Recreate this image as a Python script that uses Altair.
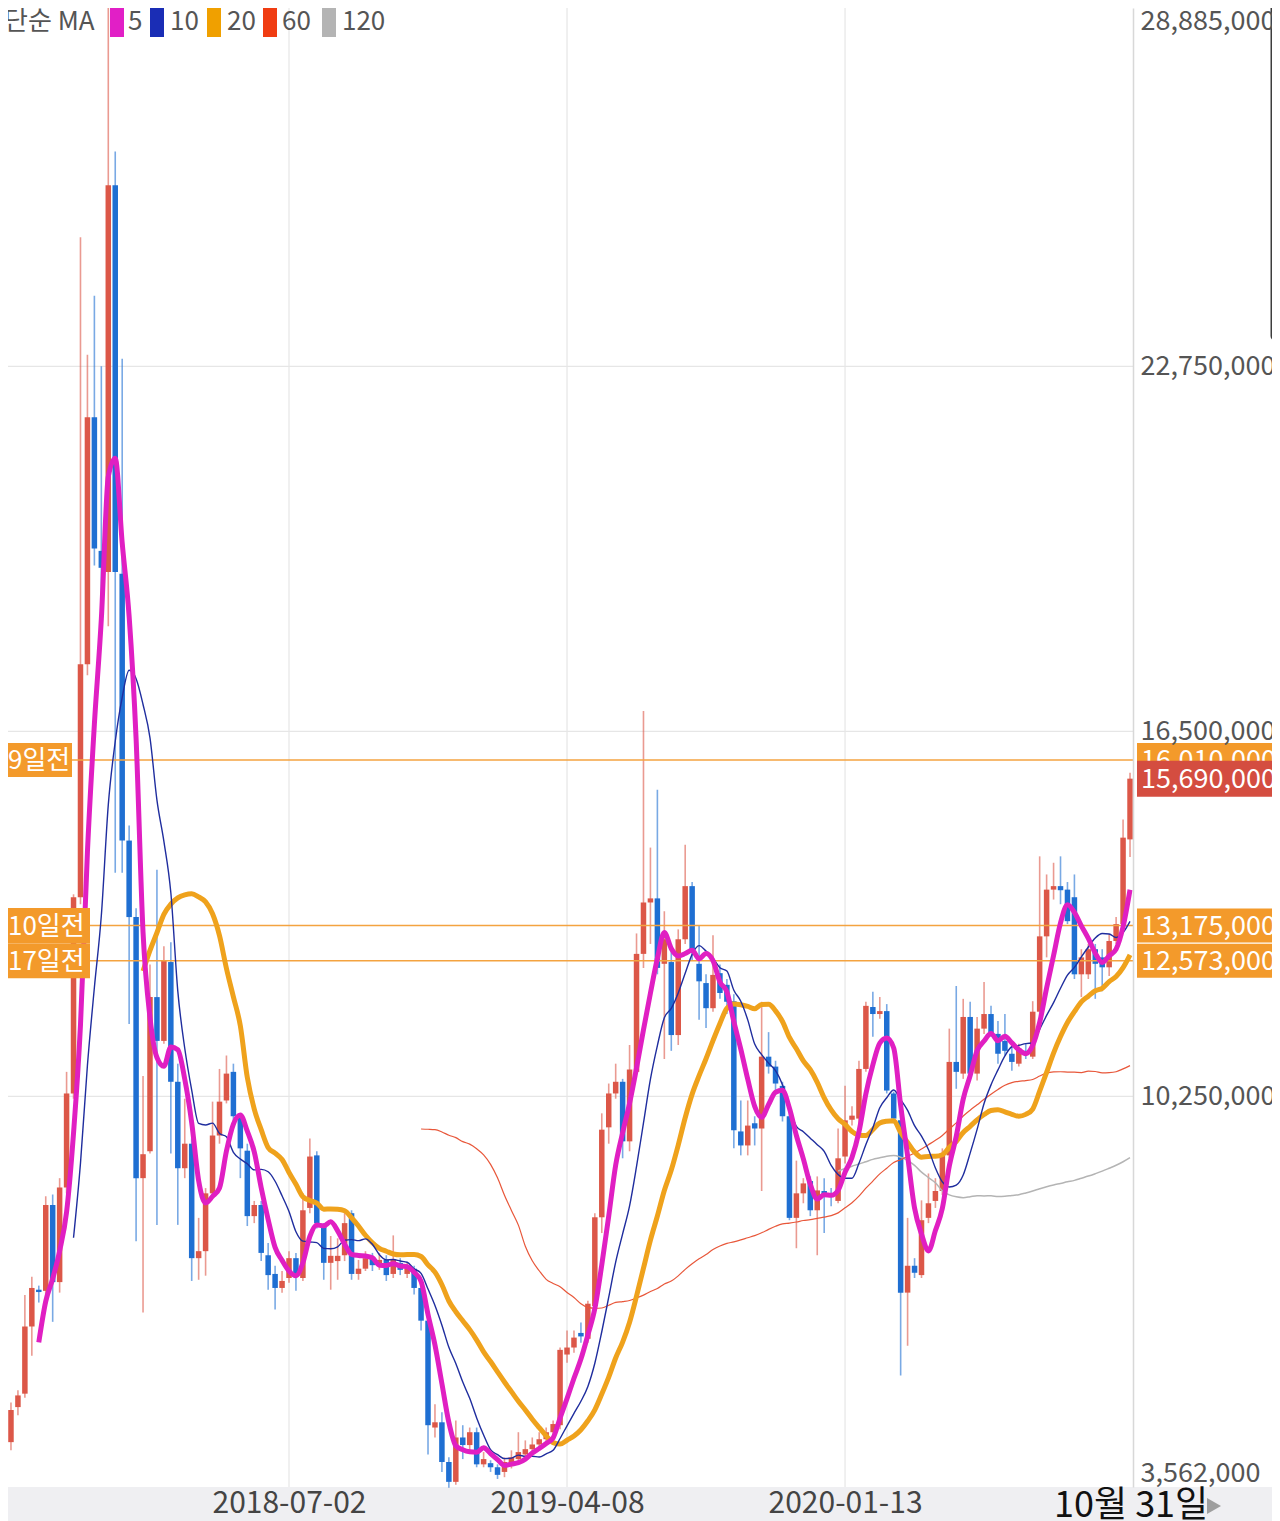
import altair as alt
import pandas as pd

# ---------------- data (weekly candles, KRW, millions) ----------------
first_week = "2017-09-25"

open_m = [4.33, 4.93, 5.16, 6.31, 6.94, 6.92, 8.39, 7.07, 8.69, 10.30,
          13.66, 17.65, 21.88, 19.59, 19.23, 25.85, 19.20, 14.63, 13.32, 8.85,
          9.31, 11.95, 11.20, 12.55, 10.50, 9.02, 9.44, 7.48, 7.60, 8.59,
          9.58, 10.18, 10.67, 9.91, 9.32, 8.20, 8.39, 7.53, 7.21, 6.97,
          7.14, 7.48, 7.14, 8.34, 9.24, 8.03, 7.40, 7.43, 7.53, 8.25,
          7.21, 7.30, 7.48, 7.36, 7.45, 7.21, 7.40, 7.21, 7.30, 6.97,
          6.41, 4.58, 4.67, 3.99, 3.65, 4.41, 4.28, 4.50, 3.95, 3.97,
          3.90, 3.82, 3.95, 4.04, 4.12, 4.21, 4.29, 4.38, 4.50, 4.62,
          5.83, 5.95, 6.20, 6.10, 6.66, 8.18, 9.72, 10.30, 10.50, 9.48,
          10.67, 12.69, 13.57, 13.64, 12.52, 12.55, 11.30, 12.94, 13.85, 12.52,
          12.19, 11.76, 12.36, 12.16, 11.88, 9.65, 9.41, 9.79, 9.70, 10.93,
          10.76, 10.43, 9.91, 8.17, 8.59, 8.80, 8.30, 8.63, 8.59, 8.46,
          9.22, 9.85, 9.87, 10.72, 11.78, 11.66, 11.71, 10.30, 9.84, 6.89,
          7.35, 7.19, 8.17, 8.46, 8.63, 9.24, 10.84, 10.64, 11.61, 10.64,
          11.41, 11.66, 11.32, 11.20, 10.98, 10.81, 11.03, 10.93, 11.70, 12.99,
          13.79, 13.85, 13.79, 13.66, 12.34, 12.34, 12.77, 12.63, 12.46, 12.91,
          13.20, 14.65]

high_m = [5.01, 5.22, 6.85, 7.16, 7.01, 8.54, 8.57, 8.85, 10.67, 13.71,
          24.96, 22.95, 23.96, 22.75, 28.885, 26.43, 22.88, 14.89, 13.47, 10.60,
          12.51, 14.13, 12.82, 12.89, 10.81, 10.21, 9.53, 8.17, 8.68, 10.16,
          10.72, 10.95, 10.81, 9.96, 9.44, 8.46, 8.46, 7.74, 7.35, 7.26,
          7.60, 7.57, 8.59, 9.53, 9.31, 8.08, 7.86, 7.82, 8.25, 8.30,
          7.45, 7.60, 7.57, 7.57, 7.53, 7.87, 7.48, 7.40, 7.35, 7.06,
          6.46, 4.98, 4.84, 4.07, 4.70, 4.62, 4.58, 4.58, 4.16, 4.02,
          3.95, 4.07, 4.19, 4.50, 4.36, 4.41, 4.50, 4.58, 4.70, 5.95,
          6.24, 6.24, 6.38, 6.75, 8.25, 9.96, 10.47, 10.81, 10.55, 11.13,
          13.04, 16.85, 14.51, 15.50, 13.42, 12.86, 13.11, 14.56, 13.92, 13.18,
          12.34, 13.01, 12.51, 12.26, 12.00, 10.18, 10.18, 9.91, 11.87, 11.35,
          10.86, 10.50, 10.01, 9.15, 8.85, 8.88, 8.88, 8.85, 8.68, 9.70,
          10.43, 10.08, 10.86, 11.87, 12.04, 11.95, 11.83, 10.33, 9.96, 8.17,
          7.48, 8.47, 8.93, 8.85, 9.36, 11.41, 12.14, 11.92, 11.87, 11.61,
          12.21, 11.80, 11.54, 11.66, 11.12, 11.15, 11.15, 11.88, 14.36, 14.05,
          14.25, 14.36, 13.92, 14.05, 12.77, 12.86, 12.86, 12.77, 13.03, 13.32,
          14.99, 15.79]

low_m = [4.19, 4.79, 5.09, 5.81, 6.72, 6.70, 6.39, 6.89, 8.59, 10.21,
         13.54, 17.46, 19.34, 18.23, 18.30, 14.08, 14.08, 11.49, 7.77, 6.55,
         9.27, 8.05, 11.15, 9.27, 8.05, 8.85, 7.09, 7.11, 7.18, 8.51,
         9.44, 10.13, 9.79, 8.85, 8.03, 8.08, 7.43, 6.94, 6.60, 6.89,
         7.06, 6.92, 7.09, 8.25, 7.99, 7.11, 6.94, 7.11, 7.43, 7.11,
         7.11, 7.26, 7.26, 7.28, 7.09, 7.14, 7.19, 7.14, 6.86, 6.24,
         4.12, 4.41, 3.82, 3.55, 3.60, 4.04, 4.16, 3.90, 3.90, 3.82,
         3.70, 3.73, 3.88, 3.99, 4.06, 4.16, 4.24, 4.33, 4.45, 4.55,
         5.69, 5.86, 6.03, 6.03, 6.63, 7.91, 9.44, 10.21, 9.19, 9.31,
         10.64, 12.45, 12.86, 12.34, 10.89, 11.03, 11.13, 12.86, 12.58, 11.56,
         11.42, 11.70, 11.92, 11.66, 9.36, 9.24, 9.24, 9.41, 8.63, 10.64,
         10.35, 9.82, 8.13, 7.65, 8.42, 8.20, 7.53, 7.91, 8.37, 8.42,
         9.10, 9.75, 9.53, 10.67, 11.27, 11.58, 10.30, 9.82, 5.47, 5.98,
         7.14, 7.14, 8.08, 8.34, 8.56, 9.19, 10.38, 10.55, 10.55, 10.52,
         11.32, 11.27, 10.81, 10.95, 10.69, 10.76, 10.89, 10.89, 11.63, 12.63,
         13.62, 13.54, 13.20, 12.26, 11.95, 12.26, 11.92, 12.05, 12.31, 12.86,
         13.12, 14.35]

close_m = [4.88, 5.13, 6.31, 6.97, 6.90, 8.39, 7.07, 8.69, 10.30, 13.66,
           17.65, 21.88, 19.63, 19.30, 25.85, 19.23, 14.63, 13.32, 8.85, 9.26,
           11.95, 11.20, 12.57, 10.50, 9.02, 9.44, 7.48, 7.60, 8.59, 9.58,
           10.16, 10.64, 9.91, 9.36, 8.20, 8.39, 7.57, 7.19, 6.97, 7.09,
           7.48, 7.17, 8.30, 9.22, 8.08, 7.40, 7.52, 7.52, 8.08, 7.21,
           7.30, 7.48, 7.36, 7.45, 7.19, 7.45, 7.28, 7.30, 6.97, 6.41,
           4.62, 4.67, 3.99, 3.65, 4.41, 4.28, 4.50, 3.95, 4.04, 3.90,
           3.77, 3.99, 4.07, 4.16, 4.21, 4.29, 4.38, 4.50, 4.64, 5.91,
           5.95, 6.12, 6.14, 6.70, 8.18, 9.68, 10.30, 10.50, 9.48, 10.71,
           12.69, 13.57, 13.64, 12.45, 12.94, 11.30, 12.94, 13.85, 12.72, 12.22,
           11.76, 12.33, 12.02, 11.87, 9.67, 9.41, 9.75, 9.70, 10.93, 10.76,
           10.47, 9.91, 8.17, 8.59, 8.76, 8.30, 8.64, 8.54, 8.54, 9.19,
           9.84, 9.92, 10.72, 11.80, 11.66, 11.71, 10.35, 9.87, 6.89, 7.35,
           7.23, 8.13, 8.42, 8.63, 9.27, 10.84, 10.67, 11.61, 10.64, 11.41,
           11.66, 11.32, 10.98, 11.03, 10.84, 11.07, 10.98, 11.70, 12.99, 13.79,
           13.85, 13.78, 13.25, 12.34, 12.63, 12.77, 12.52, 12.46, 12.91, 13.20,
           14.68, 15.69]

ma_periods = [5, 10, 20, 60, 120]
ma_colors = ["#e01fc2", "#1f2d9e", "#efa21c", "#e8573a", "#b4b4b4"]
ma_widths = [5, 1.4, 5, 1.2, 1.5]
legend_colors = ["#e11fc6", "#1a2db5", "#f0a000", "#f03c12", "#b4b4b4"]

y_ticks = [3562000, 10250000, 16500000, 22750000, 28885000]
y_grid = [10250000, 16500000, 22750000]
x_ticks = ["2018-07-02", "2019-04-08", "2020-01-13"]

alert_prices = [16010000, 13175000, 12573000]
alert_labels = ["9일전", "10일전", "17일전"]
current_price = 15690000
date_caption = "10월 31일"

# ---------------- table ----------------
dates = pd.date_range(first_week, periods=len(close_m), freq="7D").strftime("%Y-%m-%d")
df = pd.DataFrame({
    "date": list(dates),
    "open": [round(v * 1e6) for v in open_m],
    "high": [round(v * 1e6) for v in high_m],
    "low": [round(v * 1e6) for v in low_m],
    "close": [round(v * 1e6) for v in close_m],
})

UP = "#dc5748"
DOWN = "#1f6fd2"
FONT = "Noto Sans CJK KR"
W, H = 1125, 1479

xs = alt.Scale(type="utc", domain=[alt.DateTime(year=2017, month=9, date=22, utc=True),
                                   alt.DateTime(year=2020, month=10, date=29, utc=True)])
ys = alt.Scale(domain=[3562000, 28885000], nice=False, zero=False)

xaxis = alt.Axis(values=[alt.DateTime(year=int(d[:4]), month=int(d[5:7]), date=int(d[8:]), utc=True) for d in x_ticks],
                 format="%Y-%m-%d", title=None, grid=False, ticks=False, domain=False,
                 labelFontSize=30, labelColor="#444444", labelFont=FONT, labelPadding=1,
                 labelOverlap=False, zindex=1)
yaxis = alt.Axis(values=y_ticks, labelExpr="format(datum.value, ',')", orient="right",
                 title=None, grid=False, ticks=False,
                 domain=True, domainColor="#d8d8d8", domainWidth=1.5, labelFontSize=27,
                 labelColor="#555555", labelFont=FONT, labelPadding=7, labelFlush=True,
                 labelOverlap=False, zindex=1)

X = alt.X("date:T", scale=xs, axis=xaxis)

def Y(field):
    return alt.Y(field, type="quantitative", scale=ys, axis=yaxis)

one = pd.DataFrame({"k": [0]})
layers = []

# bottom band
layers.append(alt.Chart(one).mark_rule(color="#efeff2", strokeWidth=34).encode(
    x=alt.value(-8), x2=alt.value(1272), y=alt.value(H + 17)))

# gridlines
layers.append(alt.Chart(pd.DataFrame({"date": x_ticks})).mark_rule(color="#e6e6e6", strokeWidth=1.2).encode(
    x=X, y=alt.value(0), y2=alt.value(H)))
layers.append(alt.Chart(pd.DataFrame({"v": y_grid})).mark_rule(color="#e6e6e6", strokeWidth=1.2).encode(
    y=Y("v"), x=alt.value(0), x2=alt.value(W)))

color_cond = alt.condition("datum.close >= datum.open", alt.value(UP), alt.value(DOWN))

# wicks
layers.append(alt.Chart(df).mark_rule(strokeWidth=1.6, opacity=0.6).encode(
    x=X, y=Y("low"), y2=alt.Y2("high"), color=color_cond))
# bodies
layers.append(alt.Chart(df).mark_rule(strokeWidth=5.5, strokeCap="butt").encode(
    x=X, y=Y("open"), y2=alt.Y2("close"), color=color_cond))

# alert lines
alerts = pd.DataFrame({"price": alert_prices, "label": alert_labels})
layers.append(alt.Chart(alerts).mark_rule(color="#f4a340", strokeWidth=1.6).encode(
    y=Y("price"), x=alt.value(0), x2=alt.value(W)))

# moving averages (drawn longest first)
for n, c, w in reversed(list(zip(ma_periods, ma_colors, ma_widths))):
    layers.append(
        alt.Chart(df).transform_window(
            ma="mean(close)", cnt="count()", frame=[-(n - 1), 0],
            sort=[alt.SortField("date", order="ascending")]
        ).transform_filter(f"datum.cnt >= {n}").mark_line(
            color=c, strokeWidth=w, interpolate="monotone"
        ).encode(x=X, y=Y("ma"))
    )

# left alert label boxes
layers.append(alt.Chart(alerts).transform_filter("datum.label == '9일전'").mark_rule(
    color="#f39a2b", strokeWidth=34, strokeCap="butt").encode(
    y=Y("price"), x=alt.value(0), x2=alt.value(64)))
layers.append(alt.Chart(alerts).transform_filter("datum.label != '9일전'").mark_rule(
    color="#f39a2b", strokeWidth=35, strokeCap="butt").encode(
    y=Y("price"), x=alt.value(0), x2=alt.value(82)))
layers.append(alt.Chart(alerts).mark_text(
    align="left", baseline="middle", font=FONT, fontSize=26, color="white", dy=1).encode(
    y=Y("price"), x=alt.value(0), text="label:N"))

# right price boxes
layers.append(alt.Chart(alerts).mark_rule(
    color="#f39a2b", strokeWidth=34, strokeCap="butt").encode(
    y=Y("price"), x=alt.value(1129), x2=alt.value(1272)))
layers.append(alt.Chart(alerts).mark_text(
    align="left", baseline="middle", font=FONT, fontSize=27, color="white", dy=1).encode(
    y=Y("price"), x=alt.value(1133), text=alt.Text("price:Q", format=",")))
cur = pd.DataFrame({"price": [current_price]})
layers.append(alt.Chart(cur).mark_rule(
    color="#d44d40", strokeWidth=36, strokeCap="butt").encode(
    y=Y("price"), x=alt.value(1129), x2=alt.value(1272)))
layers.append(alt.Chart(cur).mark_text(
    align="left", baseline="middle", font=FONT, fontSize=27, color="white", dy=1).encode(
    y=Y("price"), x=alt.value(1133), text=alt.Text("price:Q", format=",")))

# legend (layout constants)
legend_sq_x = [109, 149, 206, 262, 321]
legend_txt_x = [120, 162, 219, 274, 334]
layers.append(alt.Chart(one).mark_text(
    align="left", baseline="middle", font=FONT, fontSize=26, color="#555555").encode(
    x=alt.value(-4), y=alt.value(14), text=alt.value("단순 MA")))
for n, c, sx, tx in zip(ma_periods, legend_colors, legend_sq_x, legend_txt_x):
    layers.append(alt.Chart(one).mark_rule(color=c, strokeWidth=14, strokeCap="butt").encode(
        x=alt.value(sx), y=alt.value(0), y2=alt.value(29)))
    layers.append(alt.Chart(one).mark_text(
        align="left", baseline="middle", font=FONT, fontSize=26, color="#555555").encode(
        x=alt.value(tx), y=alt.value(14), text=alt.value(str(n))))

# scroll indicator and date caption
layers.append(alt.Chart(one).mark_rule(color="#3d3d3d", strokeWidth=9, strokeCap="round").encode(
    x=alt.value(1267), y=alt.value(-20), y2=alt.value(328)))
layers.append(alt.Chart(one).mark_text(
    align="left", baseline="alphabetic", font=FONT, fontSize=36, color="#111111").encode(
    x=alt.value(1046), y=alt.value(H + 30), text=alt.value(date_caption)))
layers.append(alt.Chart(one).mark_point(shape="triangle-right", filled=True, size=260,
                                        color="#8f8f8f", opacity=0.85).encode(
    x=alt.value(1206), y=alt.value(H + 19)))

chart = alt.layer(*layers).properties(
    width=W, height=H,
    autosize=alt.AutoSizeParams(type="none"),
    padding={"left": 0, "top": 0, "right": 139, "bottom": 34},
    background="white",
).configure_view(strokeWidth=0)

chart.save("out.html", embed_options={"renderer": "svg", "actions": False})
